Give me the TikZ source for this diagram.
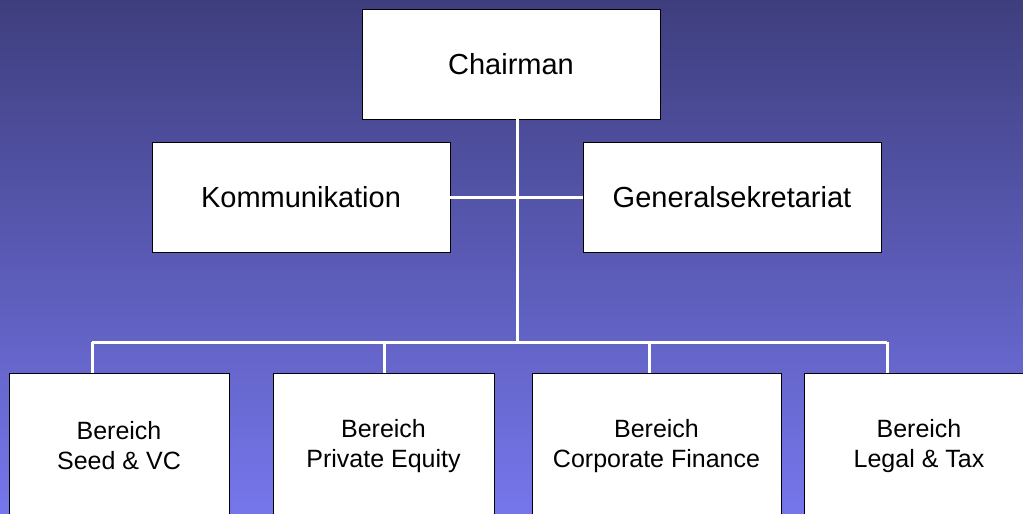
\documentclass[tikz,border=0pt]{standalone}
\usepackage{fontspec}
\setmainfont{Liberation Sans}
\usepackage{xcolor}
\usepackage{tikz}
\usetikzlibrary{positioning}
\definecolor{bgtop}{RGB}{62,62,126}
\definecolor{bgbottom}{RGB}{118,118,236}
\begin{document}
\begin{tikzpicture}[
                x=1pt, y=-1pt,
                box/.style={draw=black, line width=1pt, fill=white, inner sep=0pt, outer sep=0pt, align=center, font=\fontsize{29}{33}\selectfont},
                unit/.style={box, minimum width=220pt, minimum height=146pt, font=\fontsize{25}{30}\selectfont},
                link/.style={draw=white, line width=3pt}
            ]
                \useasboundingbox (0,0) rectangle (1023,514);
                \clip (0,0) rectangle (1023,514);
                \shade[top color=bgtop, bottom color=bgbottom] (0,0) rectangle (1023,514);

                % verbindungen
                \coordinate (trunk) at (517,119);
                \coordinate (bus) at (517,342);
                \coordinate (dropseed) at (92,342);
                \coordinate (droppe) at (384,342);
                \coordinate (dropcf) at (649,342);
                \coordinate (droplegal) at (887,342);

                \node[box, minimum width=298pt, minimum height=110pt] (chair) at (511,64) {Chairman};
                \node[box, minimum width=298pt, minimum height=110pt] (komm) at (301,197) {Kommunikation};
                \node[box, minimum width=298pt, minimum height=110pt] (gensek) at (732,197) {Generalsekretariat};

                \draw[link] (trunk) -- (bus);
                \draw[link] (komm.east) -- (gensek.west);
                \draw[link] (dropseed) -- (droplegal);

                \node[unit, minimum width=220pt] (seed) at (119,446) {Bereich\\Seed \& VC};
                \node[unit, minimum width=221pt] (pe) at (383.5,446) {Bereich\\Private Equity};
                \node[unit, minimum width=249pt] (cf) at (656.5,446) {Bereich\\Corporate Finance};
                \node[unit, minimum width=230pt] (legal) at (919,446) {Bereich\\Legal \& Tax};

                \draw[link] (dropseed) -- (dropseed |- seed.north);
                \draw[link] (droppe) -- (droppe |- pe.north);
                \draw[link] (dropcf) -- (dropcf |- cf.north);
                \draw[link] (droplegal) -- (droplegal |- legal.north);
            \end{tikzpicture}
\end{document}
